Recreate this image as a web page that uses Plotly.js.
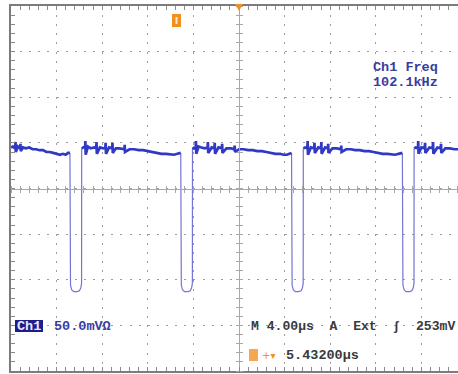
<!DOCTYPE html>
<html>
<head>
<meta charset="utf-8">
<script src="https://cdn.plot.ly/plotly-3.0.1.min.js"></script>
<style>html,body{margin:0;padding:0;background:#fff;overflow:hidden}</style>
</head>
<body>
<div id="chart" style="width:458px;height:374px"></div>
<script>
// ---- Data (time in µs from left edge of screen, level in mV) ----
const seg0T = [0, 0.15, 0.35, 0.40, 0.42, 0.60, 0.80, 0.83, 0.86, 1.05, 1.30, 1.60, 1.90, 2.20, 2.50, 2.80, 3.10, 3.40, 3.70, 4.00, 4.30, 4.55, 4.80, 5.00, 5.17];
const seg0V = [45, 46, 44, 51, 40, 46, 44, 49, 41, 45, 44, 45, 43, 43, 42, 42, 40, 40, 39, 38, 37, 38, 37, 39, 39];

const seg1T = [6.21, 6.35, 6.50, 6.52, 6.55, 6.75, 7.00, 7.30, 7.48, 7.50, 7.53, 7.80, 8.10, 8.28, 8.30, 8.33, 8.60, 8.88, 8.90, 8.93, 9.20, 9.50, 9.95, 9.97, 10.00, 10.40, 10.80, 11.20, 11.60, 12.00, 12.40, 12.80, 13.20, 13.60, 14.00, 14.30, 14.60, 14.89];
const seg1V = [44, 45, 45, 52, 37, 46, 44, 45, 44, 51, 38, 45, 44, 45, 50, 38, 45, 44, 50, 39, 44, 44, 43, 48, 40, 43, 43, 42, 42, 41, 40, 39, 38, 38, 37, 37, 38, 39];

const seg2T = [15.93, 16.05, 16.20, 16.22, 16.25, 16.45, 16.70, 17.00, 17.25, 17.27, 17.30, 17.60, 17.85, 17.87, 17.90, 18.20, 18.50, 18.52, 18.55, 18.90, 19.30, 19.60, 19.62, 19.65, 20.00, 20.40, 20.80, 21.20, 21.60, 22.00, 22.40, 22.80, 23.20, 23.60, 23.90, 24.20, 24.40, 24.61];
const seg2V = [45, 44, 45, 52, 38, 46, 45, 44, 45, 51, 39, 45, 44, 50, 38, 45, 44, 49, 39, 44, 44, 43, 47, 40, 43, 43, 42, 42, 41, 41, 40, 39, 38, 38, 37, 37, 38, 39];

const seg3T = [25.65, 25.80, 26.00, 26.02, 26.05, 26.30, 26.60, 26.62, 26.65, 26.95, 27.20, 27.22, 27.25, 27.55, 27.80, 27.82, 27.85, 28.20, 28.60, 28.95, 28.97, 29.00, 29.40, 29.80, 30.20, 30.60, 31.00, 31.40, 31.80, 32.20, 32.60, 33.00, 33.40, 33.70, 34.00, 34.33];
const seg3V = [44, 45, 44, 52, 37, 45, 44, 50, 39, 45, 44, 51, 38, 45, 44, 49, 39, 44, 44, 43, 47, 40, 43, 43, 42, 42, 41, 41, 40, 39, 38, 38, 37, 37, 38, 39];

const seg4T = [35.37, 35.50, 35.70, 35.72, 35.75, 36.00, 36.30, 36.32, 36.35, 36.70, 37.00, 37.02, 37.05, 37.40, 37.70, 37.72, 37.75, 38.10, 38.50, 38.90, 39.21];
const seg4V = [44, 45, 44, 52, 38, 45, 44, 50, 39, 45, 44, 51, 38, 45, 44, 49, 39, 44, 44, 43, 43];

const pulse1T = [5.17, 5.18, 5.22, 5.32, 5.50, 5.80, 6.00, 6.12, 6.19, 6.20];
const pulse1V = [39, -99, -106, -111, -113, -113, -112, -109, -104, 44];
const pulse2T = [14.89, 14.90, 14.94, 15.04, 15.22, 15.52, 15.72, 15.84, 15.91, 15.92];
const pulse2V = [39, -99, -106, -111, -113, -113, -112, -109, -104, 45];
const pulse3T = [24.61, 24.62, 24.66, 24.76, 24.94, 25.24, 25.44, 25.56, 25.63, 25.64];
const pulse3V = [39, -99, -106, -111, -113, -113, -112, -109, -104, 44];
const pulse4T = [34.33, 34.34, 34.38, 34.48, 34.66, 34.96, 35.16, 35.28, 35.35, 35.36];
const pulse4V = [39, -99, -106, -111, -113, -113, -112, -109, -104, 44];

const freqLabel = ["Ch1 Freq", "102.1kHz"];
const chLabel = "Ch1";
const scaleLabel = "50.0mVΩ";
const timebaseLabel = "M 4.00µs  A  Ext  ʃ  253mV";
const delayLabel = "5.43200µs";

// ---- Screen geometry ----
const W = 458, H = 374, ML = 11, MR = 0, MT = 6, MB = 3;
const PW = W - ML - MR, PH = H - MT - MB;
const US_PER_DIV = 4, MV_PER_DIV = 50, PX_PER_DIV = 45.6;
const X_MAX = PW / PX_PER_DIV * US_PER_DIV;
const X_CENTER = 5 * US_PER_DIV;
const px = x => (x - ML) / PW;          // pixel -> paper x
const py = y => 1 - (y - MT) / PH;      // pixel -> paper y

function join(list) {
  const out = [];
  list.forEach((a, i) => { if (i) out.push(null); out.push(...a); });
  return out;
}
const highT = join([seg0T, seg1T, seg2T, seg3T, seg4T]);
const highV = join([seg0V, seg1V, seg2V, seg3V, seg4V]);
const pulseT = join([pulse1T, pulse2T, pulse3T, pulse4T]);
const pulseV = join([pulse1V, pulse2V, pulse3V, pulse4V]);

const traces = [
  {x: pulseT, y: pulseV, type: 'scatter', mode: 'lines', connectgaps: false,
   line: {color: '#7474d2', width: 1.2}, hoverinfo: 'skip'},
  {x: highT, y: highV, type: 'scatter', mode: 'lines', connectgaps: false,
   line: {color: '#3038c4', width: 2.7}, hoverinfo: 'skip'},
  {x: [], y: [], xaxis: 'x2', yaxis: 'y', type: 'scatter'},
  {x: [], y: [], xaxis: 'x3', yaxis: 'y', type: 'scatter'},
  {x: [], y: [], xaxis: 'x', yaxis: 'y2', type: 'scatter'},
  {x: [], y: [], xaxis: 'x', yaxis: 'y3', type: 'scatter'}
];

const frameCol = '#7c7c7c', tickCol = '#8a8a8a', gridCol = '#9c9c9c', centerCol = '#a8a8a8';
const dashStr = '2px,' + (PX_PER_DIV / 5 - 2).toFixed(2) + 'px';

const baseX = {range: [0, X_MAX], showticklabels: false, zeroline: false, fixedrange: true};
const baseY = {range: [-4 * MV_PER_DIV, 4 * MV_PER_DIV], showticklabels: false, zeroline: false, fixedrange: true};

const centerX = side => Object.assign({}, baseX, {
  overlaying: 'x', anchor: 'free', position: 0.5, side: side,
  showline: true, linecolor: centerCol, linewidth: 1, showgrid: false,
  ticks: 'outside', ticklen: 3, tickwidth: 1, tickcolor: centerCol,
  tick0: 0, dtick: US_PER_DIV / 5
});
const centerY = side => Object.assign({}, baseY, {
  overlaying: 'y', anchor: 'free', position: X_CENTER / X_MAX, side: side,
  showline: true, linecolor: centerCol, linewidth: 1, showgrid: false,
  ticks: 'outside', ticklen: 3, tickwidth: 1, tickcolor: centerCol,
  tick0: 0, dtick: MV_PER_DIV / 5
});

const txtBlue = '#3b3ba4', txtDark = '#3a3a3a', orange = '#f0901f';
const monoFont = (c, s) => ({family: 'Liberation Mono, DejaVu Sans Mono, monospace', size: s || 13.5, color: c, weight: 'bold'});

const layout = {
  width: W, height: H,
  margin: {l: ML, r: MR, t: MT, b: MB, pad: 0},
  paper_bgcolor: '#ffffff', plot_bgcolor: '#ffffff', showlegend: false,
  xaxis: Object.assign({}, baseX, {
    showgrid: true, gridcolor: gridCol, gridwidth: 1, griddash: dashStr,
    tick0: 0, dtick: US_PER_DIV, ticks: 'inside', ticklen: 4, tickcolor: tickCol,
    showline: true, linecolor: frameCol, linewidth: 2, mirror: 'ticks',
    minor: {tick0: 0, dtick: US_PER_DIV / 5, ticks: 'inside', ticklen: 4, tickcolor: tickCol, showgrid: false}
  }),
  yaxis: Object.assign({}, baseY, {
    showgrid: true, gridcolor: gridCol, gridwidth: 1, griddash: dashStr,
    tick0: 0, dtick: MV_PER_DIV, ticks: 'inside', ticklen: 4, tickcolor: tickCol,
    showline: true, linecolor: frameCol, linewidth: 2, mirror: false,
    minor: {tick0: 0, dtick: MV_PER_DIV / 5, ticks: 'inside', ticklen: 4, tickcolor: tickCol, showgrid: false}
  }),
  xaxis2: centerX('bottom'),
  xaxis3: centerX('top'),
  yaxis2: centerY('left'),
  yaxis3: centerY('right'),
  shapes: [
    // Ch1 badge
    {type: 'rect', xref: 'paper', yref: 'paper', x0: px(15), x1: px(43), y0: py(332), y1: py(320),
     fillcolor: '#1d1d8e', line: {width: 0}},
    // bottom orange position icon
    {type: 'rect', xref: 'paper', yref: 'paper', x0: px(249), x1: px(258), y0: py(361), y1: py(349),
     fillcolor: '#f5a850', line: {width: 0}},
    // top orange position icon
    {type: 'rect', xref: 'paper', yref: 'paper', x0: px(172), x1: px(181), y0: py(27), y1: py(14),
     fillcolor: orange, line: {width: 0}},
    {type: 'line', xref: 'paper', yref: 'paper', x0: px(176.5), x1: px(176.5), y0: py(24), y1: py(17),
     line: {color: '#ffe7c8', width: 2}},
    // trigger arrow at top centre
    {type: 'path', xref: 'x', yref: 'paper', layer: 'above',
     path: 'M ' + (X_CENTER - 0.35) + ',' + py(4) + ' L ' + (X_CENTER + 0.35) + ',' + py(4) + ' L ' + X_CENTER + ',' + py(11) + ' Z',
     fillcolor: '#e8902a', line: {width: 0}}
  ],
  annotations: [
    {xref: 'paper', yref: 'paper', x: px(371), y: py(68), xanchor: 'left', yanchor: 'middle',
     text: freqLabel[0], showarrow: false, font: monoFont(txtBlue)},
    {xref: 'paper', yref: 'paper', x: px(371), y: py(82), xanchor: 'left', yanchor: 'middle',
     text: freqLabel[1], showarrow: false, font: monoFont(txtBlue)},
    {xref: 'paper', yref: 'paper', x: px(29), y: py(326), xanchor: 'center', yanchor: 'middle',
     text: chLabel, showarrow: false, font: monoFont('#e8e8ff')},
    {xref: 'paper', yref: 'paper', x: px(52), y: py(326), xanchor: 'left', yanchor: 'middle',
     text: scaleLabel, showarrow: false, font: monoFont(txtBlue)},
    {xref: 'paper', yref: 'paper', x: px(249), y: py(326), xanchor: 'left', yanchor: 'middle',
     text: timebaseLabel, showarrow: false, font: monoFont(txtDark, 13.1)},
    {xref: 'paper', yref: 'paper', x: px(260), y: py(355), xanchor: 'left', yanchor: 'middle',
     text: '+▾', showarrow: false, font: {family: 'DejaVu Sans', size: 10, color: orange}},
    {xref: 'paper', yref: 'paper', x: px(284), y: py(355), xanchor: 'left', yanchor: 'middle',
     text: delayLabel, showarrow: false, font: monoFont(txtDark)}
  ]
};

Plotly.newPlot('chart', traces, layout, {staticPlot: true, displayModeBar: false});
</script>
</body>
</html>
